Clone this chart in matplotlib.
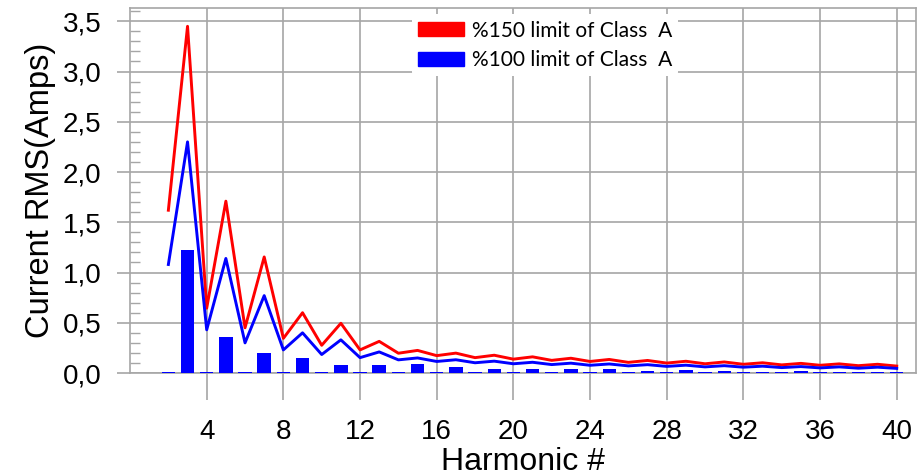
import matplotlib.pyplot as plt
from matplotlib.patches import Patch

# Harmonic orders 2..40
harmonics = list(range(2, 41))

measured = [0.008, 1.22, 0.008, 0.36, 0.008, 0.20, 0.008, 0.15, 0.008, 0.08,
            0.008, 0.08, 0.008, 0.087, 0.008, 0.06, 0.008, 0.037, 0.008, 0.04,
            0.008, 0.037, 0.008, 0.044, 0.008, 0.02, 0.008, 0.03, 0.008, 0.02,
            0.008, 0.012, 0.008, 0.02, 0.008, 0.012, 0.008, 0.012, 0.008]

# Class A limit (100%)
limit_100 = [1.08, 2.30, 0.43, 1.14, 0.30, 0.77, 0.23, 0.40, 0.184, 0.33,
             0.153, 0.21, 0.131, 0.15, 0.115, 0.132, 0.102, 0.118, 0.092, 0.107,
             0.084, 0.098, 0.077, 0.090, 0.071, 0.083, 0.066, 0.078, 0.061, 0.073,
             0.058, 0.068, 0.054, 0.064, 0.051, 0.061, 0.048, 0.058, 0.046]

# 150% of Class A limit
limit_150 = [1.62, 3.45, 0.645, 1.71, 0.45, 1.155, 0.345, 0.60, 0.276, 0.495,
             0.23, 0.315, 0.197, 0.225, 0.173, 0.198, 0.153, 0.177, 0.138, 0.161,
             0.126, 0.147, 0.115, 0.135, 0.106, 0.125, 0.099, 0.117, 0.092, 0.110,
             0.087, 0.102, 0.081, 0.096, 0.077, 0.091, 0.073, 0.087, 0.069]

x_ticks = list(range(4, 41, 4))
y_ticks = [0.0, 0.5, 1.0, 1.5, 2.0, 2.5, 3.0, 3.5]
y_labels = ['0,0', '0,5', '1,0', '1,5', '2,0', '2,5', '3,0', '3,5']

plt.rcParams['font.family'] = ['Liberation Sans', 'DejaVu Sans']
grid_col = '#a6a6a6'

fig = plt.figure(figsize=(9.17, 4.75), dpi=100)
ax = fig.add_axes([0.1418, 0.2147, 0.857, 0.768])

ax.bar(harmonics, measured, width=0.7, color='#0000ff', zorder=3)
ax.plot(harmonics, limit_150, color='#ff0000', lw=2.1, zorder=4)
ax.plot(harmonics, limit_100, color='#0000ff', lw=2.1, zorder=4)

ax.set_xlim(0, 41)
ax.set_ylim(0, 3.63)
ax.set_xticks(x_ticks)
ax.set_yticks(y_ticks)
ax.set_yticklabels(y_labels)
ax.set_yticks([i / 10 for i in range(0, 37)], minor=True)

ax.grid(True, which='major', color=grid_col, lw=1.2, zorder=0)
ax.tick_params(axis='x', which='major', length=19.4, width=1.2, color=grid_col,
               labelsize=20, pad=14)
ax.tick_params(axis='y', which='major', length=9.5, width=1.2, color=grid_col,
               labelsize=20, pad=11)
ax.tick_params(axis='y', which='minor', length=7, width=1, color=grid_col,
               direction='in')
for s in ax.spines.values():
    s.set_color(grid_col)
    s.set_linewidth(1.2)

ax.set_xlabel('Harmonic #', fontsize=23, labelpad=1)
ax.set_ylabel('Current RMS(Amps)', fontsize=23.5, labelpad=5)

handles = [Patch(color='#ff0000'), Patch(color='#0000ff')]
leg = ax.legend(handles, ['%150 limit of Class  A', '%100 limit of Class  A'],
                loc='upper left', bbox_to_anchor=(0.345, 1.012), frameon=True,
                edgecolor='none', facecolor='white', framealpha=1,
                handlelength=2.2, handleheight=0.65, handletextpad=0.4,
                labelspacing=0.45, borderpad=0.3,
                prop={'family': 'Lato', 'size': 15})
leg.set_zorder(5)

fig.savefig('out.png', dpi=100)
